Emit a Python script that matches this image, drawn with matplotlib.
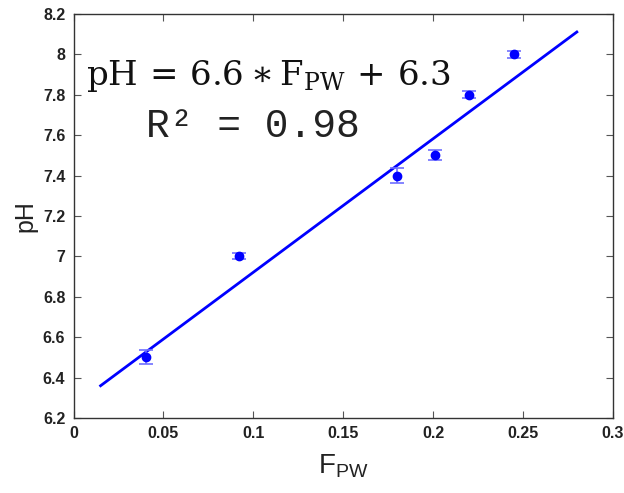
import matplotlib
matplotlib.use("Agg")
from matplotlib import pyplot as plt

# Meritve
f_pw = [0.040, 0.092, 0.180, 0.201, 0.220, 0.245]
ph = [6.50, 7.00, 7.40, 7.50, 7.80, 8.00]
ph_err = [0.035, 0.015, 0.035, 0.025, 0.018, 0.018]

# Premica prileganja (krajišči)
fit_x = [0.015, 0.280]
fit_y = [6.36, 8.11]

xticks = [0, 0.05, 0.1, 0.15, 0.2, 0.25, 0.3]
xtick_labels = ['0', '0.05', '0.1', '0.15', '0.2', '0.25', '0.3']
yticks = [6.2, 6.4, 6.6, 6.8, 7, 7.2, 7.4, 7.6, 7.8, 8, 8.2]
ytick_labels = ['6.2', '6.4', '6.6', '6.8', '7', '7.2', '7.4', '7.6', '7.8', '8', '8.2']

plt.rcParams['font.family'] = ['Liberation Sans', 'DejaVu Sans']
plt.rcParams['mathtext.fontset'] = 'dejavuserif'

fig = plt.figure(figsize=(6.24, 4.93), dpi=100)
ax = fig.add_axes([0.118, 0.152, 0.864, 0.820])

ax.plot(fit_x, fit_y, color='#0000ff', linewidth=2)
ax.errorbar(f_pw, ph, yerr=ph_err, fmt='none', ecolor='#7070ff',
            elinewidth=1.2, capsize=5, capthick=1.2)
ax.plot(f_pw, ph, 'o', color='#0000ff', markersize=6)

ax.set_xlim(0, 0.3)
ax.set_ylim(6.2, 8.2)
ax.set_xticks(xticks)
ax.set_xticklabels(xtick_labels)
ax.set_yticks(yticks)
ax.set_yticklabels(ytick_labels)
ax.tick_params(direction='in', top=True, right=True, length=5,
               labelsize=11.5, color='#555555', pad=6)
for lab in ax.get_xticklabels() + ax.get_yticklabels():
    lab.set_fontweight('bold')
    lab.set_color('#222222')
for s in ax.spines.values():
    s.set_color('#333333')
    s.set_linewidth(1.0)

ax.set_xlabel(r'F$_{\mathregular{PW}}$', fontsize=20, color='#222222', labelpad=8)
ax.set_ylabel('pH', fontsize=18, color='#222222', labelpad=4)

ax.text(0.007, 7.85,
        r'$\mathrm{pH}\,=\,6.6\ast\mathrm{F_{PW}}\,+\,6.3$',
        fontsize=24.5, color='#111111', va='baseline', ha='left')
ax.text(0.040, 7.59, 'R² = 0.98', family=['Liberation Mono', 'DejaVu Sans Mono'],
        fontsize=28.5, color='#222222', va='baseline', ha='left')

plt.savefig('out.png', dpi=100)
